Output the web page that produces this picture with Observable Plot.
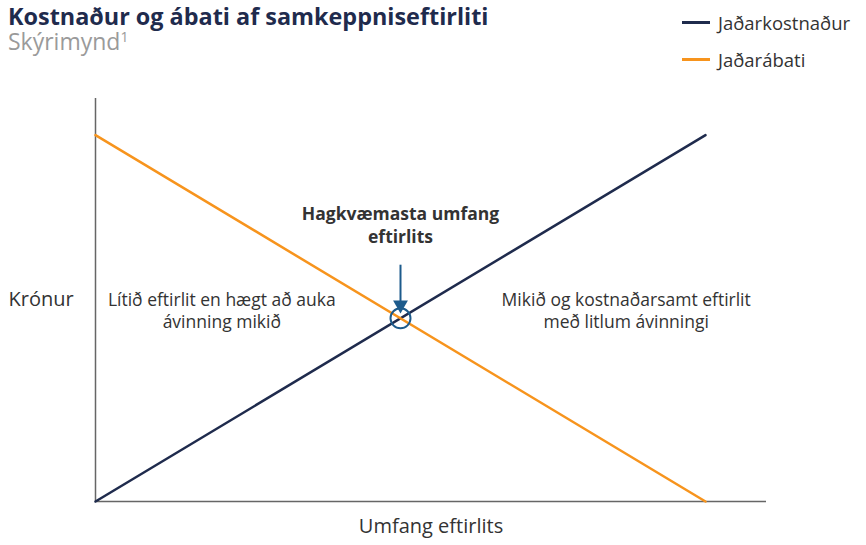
<!DOCTYPE html>
<html>
<head>
<meta charset="utf-8">
<script src="https://cdn.jsdelivr.net/npm/d3@7"></script>
<script src="https://cdn.jsdelivr.net/npm/@observablehq/plot@0.6"></script>
<style>
  body { margin: 0; background: #fff; font-family: "Open Sans", sans-serif; }
  #wrap { width: 866px; position: relative; }
  #header { position: relative; height: 80px; }
  #title { position: absolute; left: 8px; top: 5px; font-size: 23.4px; line-height: 1; font-weight: 700; color: #1f2b4d; white-space: nowrap; }
  #subtitle { position: absolute; left: 8px; top: 30px; font-size: 23px; line-height: 1; color: #9a9a9a; white-space: nowrap; }
  #subtitle sup { font-size: 14px; vertical-align: 8px; line-height: 0; }
  .leg { position: absolute; left: 682px; font-size: 18.5px; color: #333; white-space: nowrap; display: flex; align-items: center; }
  .leg i { display: inline-block; width: 28px; height: 3px; margin-right: 8px; }
</style>
</head>
<body>
<div id="wrap">
  <div id="header">
    <div id="title">Kostnaður og ábati af samkeppniseftirliti</div>
    <div id="subtitle">Skýrimynd<sup>1</sup></div>
    <div class="leg" id="leg0" style="top:10px"></div>
    <div class="leg" id="leg1" style="top:47px"></div>
  </div>
  <div id="chart"></div>
</div>
<script>
// Data
const scope = [0, 10];                 // Umfang eftirlits
const marginalCost = [0, 10];          // Jaðarkostnaður
const marginalBenefit = [10, 0];       // Jaðarábati
const seriesNames = ["Jaðarkostnaður", "Jaðarábati"];
const seriesColors = ["#1f2b4d", "#f7941d"];
const optimum = [{x: 5, y: 5}];
const arrowFrom = 6.45, arrowTo = 5.45;
const leftNote = {x: 2.07, y: 5.23, text: "Lítið eftirlit en hægt að auka\návinning mikið"};
const rightNote = {x: 8.70, y: 5.23, text: "Mikið og kostnaðarsamt eftirlit\nmeð litlum ávinningi"};
const optNote = {x: 5, y: 7.57, text: "Hagkvæmasta umfang\neftirlits"};
const yLabel = "Krónur";
const xLabel = "Umfang eftirlits";

seriesNames.forEach((n, i) => {
  document.getElementById("leg" + i).innerHTML = `<i style="background:${seriesColors[i]}"></i>${n}`;
});

const costData = scope.map((x, i) => ({x, y: marginalCost[i]}));
const benefitData = scope.map((x, i) => ({x, y: marginalBenefit[i]}));
const accent = "#1d5b8c";

const chart = Plot.plot({
  width: 866,
  height: 465,
  marginLeft: 95,
  marginRight: 100,
  marginTop: 18,
  marginBottom: 44,
  style: {fontFamily: "Open Sans, sans-serif", background: "#fff"},
  x: {domain: [0, 11], axis: null},
  y: {domain: [0, 11], axis: null},
  marks: [
    Plot.ruleX([0], {y1: 0, y2: 11, stroke: "#666", strokeWidth: 1.5}),
    Plot.ruleY([0], {x1: 0, x2: 11, stroke: "#666", strokeWidth: 1.5}),
    Plot.line(costData, {x: "x", y: "y", stroke: seriesColors[0], strokeWidth: 2.5}),
    Plot.line(benefitData, {x: "x", y: "y", stroke: seriesColors[1], strokeWidth: 2.5}),
    Plot.dot(optimum, {x: "x", y: "y", r: 10, stroke: accent, strokeWidth: 2, fill: "none"}),
    Plot.ruleX(optimum, {x: "x", y1: arrowFrom, y2: arrowTo, stroke: accent, strokeWidth: 2}),
    Plot.dot(optimum, {x: "x", y: () => arrowTo, dy: 3, symbol: "triangle", rotate: 180, r: 5.5, fill: accent, stroke: "none"}),
    Plot.text([leftNote], {x: "x", y: "y", text: "text", fontSize: 17.5, lineHeight: 1.25, fill: "#333"}),
    Plot.text([rightNote], {x: "x", y: "y", text: "text", fontSize: 17.5, lineHeight: 1.25, fill: "#333"}),
    Plot.text([optNote], {x: "x", y: "y", text: "text", fontSize: 17.5, fontWeight: "bold", lineHeight: 1.3, fill: "#333"}),
    Plot.text([yLabel], {frameAnchor: "left", text: d => d, textAnchor: "start", dx: -87, fontSize: 20, fill: "#333"}),
    Plot.text([xLabel], {frameAnchor: "bottom", text: d => d, dy: 31, fontSize: 20, fill: "#333"})
  ]
});
document.getElementById("chart").appendChild(chart);
</script>
</body>
</html>
